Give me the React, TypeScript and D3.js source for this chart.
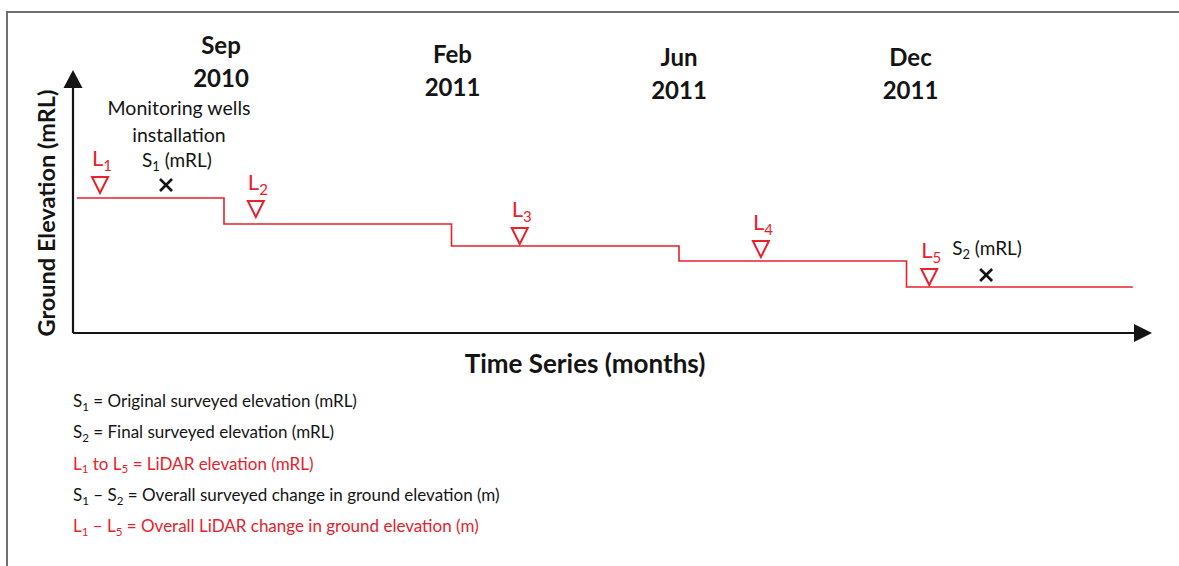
import React from 'react';
import * as d3 from 'd3';

const width = 1179;
const height = 566;

// survey periods (step boundaries), index 0 = Sep 2010
const periodMonth = ['Sep', 'Feb', 'Jun', 'Dec'];
const periodYear = ['2010', '2011', '2011', '2011'];
const stepStarts = [-0.646, 0, 1, 2, 3];
const stepEnds = [0, 1, 2, 3, 3.995];
const levels = [13.5, 10.9, 8.7, 7.2, 4.6];

// LiDAR markers (position, elevation of triangle tip)
const lidarNames = ['1', '2', '3', '4', '5'];
const lidarPos = [-0.545, 0.14, 1.3, 2.36, 3.1];
const lidarLevels = [14.0, 11.6, 8.9, 7.6, 4.8];

// surveyed markers
const surveyNames = ['1', '2'];
const surveyPos = [-0.255, 3.35];
const surveyLevels = [14.8, 5.8];

const legendLines = [
  { parts: [['S', '1'], [' = Original surveyed elevation (mRL)']], red: false },
  { parts: [['S', '2'], [' = Final surveyed elevation (mRL)']], red: false },
  { parts: [['L', '1'], [' to '], ['L', '5'], [' = LiDAR elevation (mRL)']], red: true },
  { parts: [['S', '1'], [' \u2013 '], ['S', '2'], [' = Overall surveyed change in ground elevation (m)']], red: false },
  { parts: [['L', '1'], [' \u2013 '], ['L', '5'], [' = Overall LiDAR change in ground elevation (m)']], red: true },
];

const RED = '#e8212b';
const INK = '#141414';
const FONT = 'Lato, "Open Sans", sans-serif';

const x = d3.scaleLinear().domain([0, 4]).range([224, 1134]);
const y = d3.scaleLinear().domain([0, 10]).range([333, 233]);

const axisX0 = 73;
const axisY0 = 333;

// text with subscripts: [base, sub] pairs or [plain]
const Sub = ({ parts, size }: { parts: string[][]; size: number }) => {
  const shift = size * 0.22;
  let pending = 0;
  const out: React.ReactNode[] = [];
  parts.forEach((p, i) => {
    if (p.length === 2) {
      out.push(<tspan key={i + 'a'} dy={pending || undefined}>{p[0]}</tspan>);
      out.push(<tspan key={i + 'b'} fontSize={size * 0.68} dy={shift}>{p[1]}</tspan>);
      pending = -shift;
    } else {
      out.push(<tspan key={i} dy={pending || undefined}>{p[0]}</tspan>);
      pending = 0;
    }
  });
  return <>{out}</>;
};

export default function App() {
  const stepPath = d3.line<[number, number]>()(
    levels.flatMap((lv, i) => [
      [x(stepStarts[i]), y(lv)] as [number, number],
      [x(stepEnds[i]), y(lv)] as [number, number],
    ])
  );

  const monthTop = [54, 63, 66, 66];
  const labelShift = [-3, 1, 0, 4];

  return (
    <svg width={width} height={height} style={{ position: 'fixed', left: 0, top: 0 }} fontFamily={FONT}>
      <rect width={width} height={height} fill="#fff" />
      {/* outer frame */}
      <path d={`M7,${height} V12 H${width}`} fill="none" stroke="#707070" strokeWidth={2} />

      {/* axes */}
      <line x1={axisX0} y1={axisY0} x2={axisX0} y2={86} stroke={INK} strokeWidth={2.2} />
      <path d={`M${axisX0 - 9.5},88 L${axisX0},70 L${axisX0 + 9.5},88 Z`} fill={INK} />
      <line x1={axisX0} y1={axisY0} x2={1136} y2={axisY0} stroke={INK} strokeWidth={2.2} />
      <path d={`M1134,${axisY0 - 9} L1152,${axisY0} L1134,${axisY0 + 9} Z`} fill={INK} />

      <text transform={`translate(55,213) rotate(-90)`} textAnchor="middle" fontWeight="bold" fontSize={23.5} fill={INK}>
        Ground Elevation (mRL)
      </text>
      <text x={585} y={373} textAnchor="middle" fontWeight="bold" fontSize={26} fill={INK}>
        Time Series (months)
      </text>

      {/* period labels */}
      {periodMonth.map((m, i) => (
        <text key={i} textAnchor="middle" fontWeight="bold" fontSize={24} fill={INK}>
          <tspan x={x(i) + labelShift[i]} y={monthTop[i]}>{m}</tspan>
          <tspan x={x(i) + labelShift[i]} y={monthTop[i] + 33}>{periodYear[i]}</tspan>
        </text>
      ))}

      {/* step line */}
      <path d={stepPath || ''} fill="none" stroke={RED} strokeWidth={1.6} />

      {/* LiDAR markers */}
      {lidarPos.map((p, i) => {
        const cx = x(p);
        const tip = y(lidarLevels[i]);
        return (
          <g key={'L' + i}>
            <path d={`M${cx - 8},${tip - 16} L${cx + 8},${tip - 16} L${cx},${tip} Z`} fill="none" stroke={RED} strokeWidth={2} />
            <text x={cx - 8} y={tip - 27} fontSize={22} fill={RED}>
              L<tspan fontSize={15} dy={5}>{lidarNames[i]}</tspan>
            </text>
          </g>
        );
      })}

      {/* surveyed markers */}
      {surveyPos.map((p, i) => {
        const cx = x(p);
        const cy = y(surveyLevels[i]);
        return (
          <g key={'S' + i} stroke={INK} strokeWidth={2.6}>
            <line x1={cx - 6} y1={cy - 6} x2={cx + 6} y2={cy + 6} />
            <line x1={cx - 6} y1={cy + 6} x2={cx + 6} y2={cy - 6} />
          </g>
        );
      })}

      {/* S labels */}
      <text textAnchor="middle" fontSize={19.5} fill={INK}>
        <tspan x={179} y={115}>Monitoring wells</tspan>
        <tspan x={179} y={142}>installation</tspan>
      </text>
      <text x={x(surveyPos[0]) - 24} y={167} fontSize={19} fill={INK}>
        <Sub parts={[['S', surveyNames[0]], [' (mRL)']]} size={19} />
      </text>
      <text x={x(surveyPos[1]) - 34} y={255} fontSize={19} fill={INK}>
        <Sub parts={[['S', surveyNames[1]], [' (mRL)']]} size={19} />
      </text>

      {/* legend */}
      {legendLines.map((l, i) => (
        <text key={i} x={73} y={407 + i * 31.3} fontSize={17} fill={l.red ? RED : INK}>
          <Sub parts={l.parts} size={17} />
        </text>
      ))}
    </svg>
  );
}
